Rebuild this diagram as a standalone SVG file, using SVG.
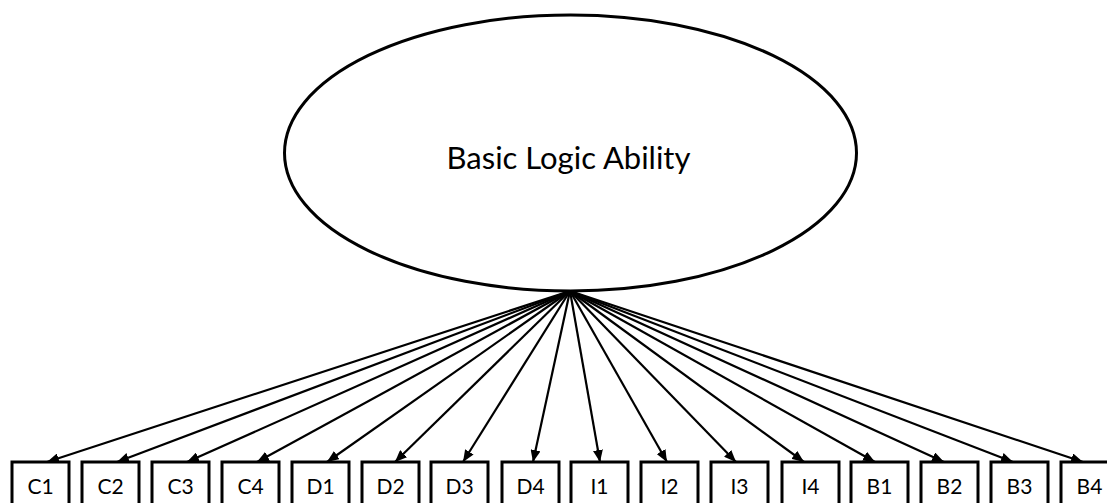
<svg xmlns="http://www.w3.org/2000/svg" width="1107" height="503" viewBox="0 0 1107 503">
<defs>
<style>
.box{fill:#fff;stroke:#000;stroke-width:3}
.lbl{font-family:Lato,"Liberation Sans",Arial,sans-serif;font-size:21px;fill:#000;text-anchor:middle}
.edge{stroke:#000;stroke-width:2.2;fill:none;marker-end:url(#ah)}
</style>
<marker id="ah" markerWidth="12" markerHeight="10" refX="12" refY="5" orient="auto" markerUnits="userSpaceOnUse">
<path d="M0,0 L12,5 L0,10 z" fill="#000"/>
</marker>
</defs>
<rect width="1107" height="503" fill="#fff"/>
<g id="connectors">
<line class="edge" x1="570" y1="291" x2="47" y2="462"/>
<line class="edge" x1="570" y1="291" x2="117" y2="462"/>
<line class="edge" x1="570" y1="291" x2="187" y2="462"/>
<line class="edge" x1="570" y1="291" x2="257" y2="462"/>
<line class="edge" x1="570" y1="291" x2="327" y2="462"/>
<line class="edge" x1="570" y1="291" x2="395" y2="462"/>
<line class="edge" x1="570" y1="291" x2="463" y2="462"/>
<line class="edge" x1="570" y1="291" x2="533" y2="462"/>
<line class="edge" x1="570" y1="291" x2="600" y2="462"/>
<line class="edge" x1="570" y1="291" x2="667" y2="462"/>
<line class="edge" x1="570" y1="291" x2="736" y2="462"/>
<line class="edge" x1="570" y1="291" x2="804" y2="462"/>
<line class="edge" x1="570" y1="291" x2="875" y2="462"/>
<line class="edge" x1="570" y1="291" x2="944" y2="462"/>
<line class="edge" x1="570" y1="291" x2="1013" y2="462"/>
<line class="edge" x1="570" y1="291" x2="1083" y2="462"/>
</g>
<g id="latent">
<ellipse cx="570.5" cy="153" rx="286" ry="138" fill="#fff" stroke="#000" stroke-width="3"/>
<text x="568.5" y="169" font-family="Lato,Liberation Sans,Arial,sans-serif" font-size="31" text-anchor="middle" fill="#000">Basic Logic Ability</text>
</g>
<g id="C1"><rect class="box" x="12" y="462" width="57" height="60"/><text class="lbl" x="40.5" y="494">C1</text></g>
<g id="C2"><rect class="box" x="82" y="462" width="57" height="60"/><text class="lbl" x="110.5" y="494">C2</text></g>
<g id="C3"><rect class="box" x="152" y="462" width="57" height="60"/><text class="lbl" x="180.5" y="494">C3</text></g>
<g id="C4"><rect class="box" x="222" y="462" width="57" height="60"/><text class="lbl" x="250.5" y="494">C4</text></g>
<g id="D1"><rect class="box" x="292" y="462" width="57" height="60"/><text class="lbl" x="320.5" y="494">D1</text></g>
<g id="D2"><rect class="box" x="362" y="462" width="57" height="60"/><text class="lbl" x="390.5" y="494">D2</text></g>
<g id="D3"><rect class="box" x="431" y="462" width="57" height="60"/><text class="lbl" x="459.5" y="494">D3</text></g>
<g id="D4"><rect class="box" x="502" y="462" width="57" height="60"/><text class="lbl" x="530.5" y="494">D4</text></g>
<g id="I1"><rect class="box" x="571" y="462" width="57" height="60"/><text class="lbl" x="599.5" y="494">I1</text></g>
<g id="I2"><rect class="box" x="641" y="462" width="57" height="60"/><text class="lbl" x="669.5" y="494">I2</text></g>
<g id="I3"><rect class="box" x="711" y="462" width="57" height="60"/><text class="lbl" x="739.5" y="494">I3</text></g>
<g id="I4"><rect class="box" x="782" y="462" width="57" height="60"/><text class="lbl" x="810.5" y="494">I4</text></g>
<g id="B1"><rect class="box" x="851" y="462" width="57" height="60"/><text class="lbl" x="879.5" y="494">B1</text></g>
<g id="B2"><rect class="box" x="921" y="462" width="57" height="60"/><text class="lbl" x="949.5" y="494">B2</text></g>
<g id="B3"><rect class="box" x="991" y="462" width="57" height="60"/><text class="lbl" x="1019.5" y="494">B3</text></g>
<g id="B4"><rect class="box" x="1061" y="462" width="57" height="60"/><text class="lbl" x="1089.5" y="494">B4</text></g>
</svg>
